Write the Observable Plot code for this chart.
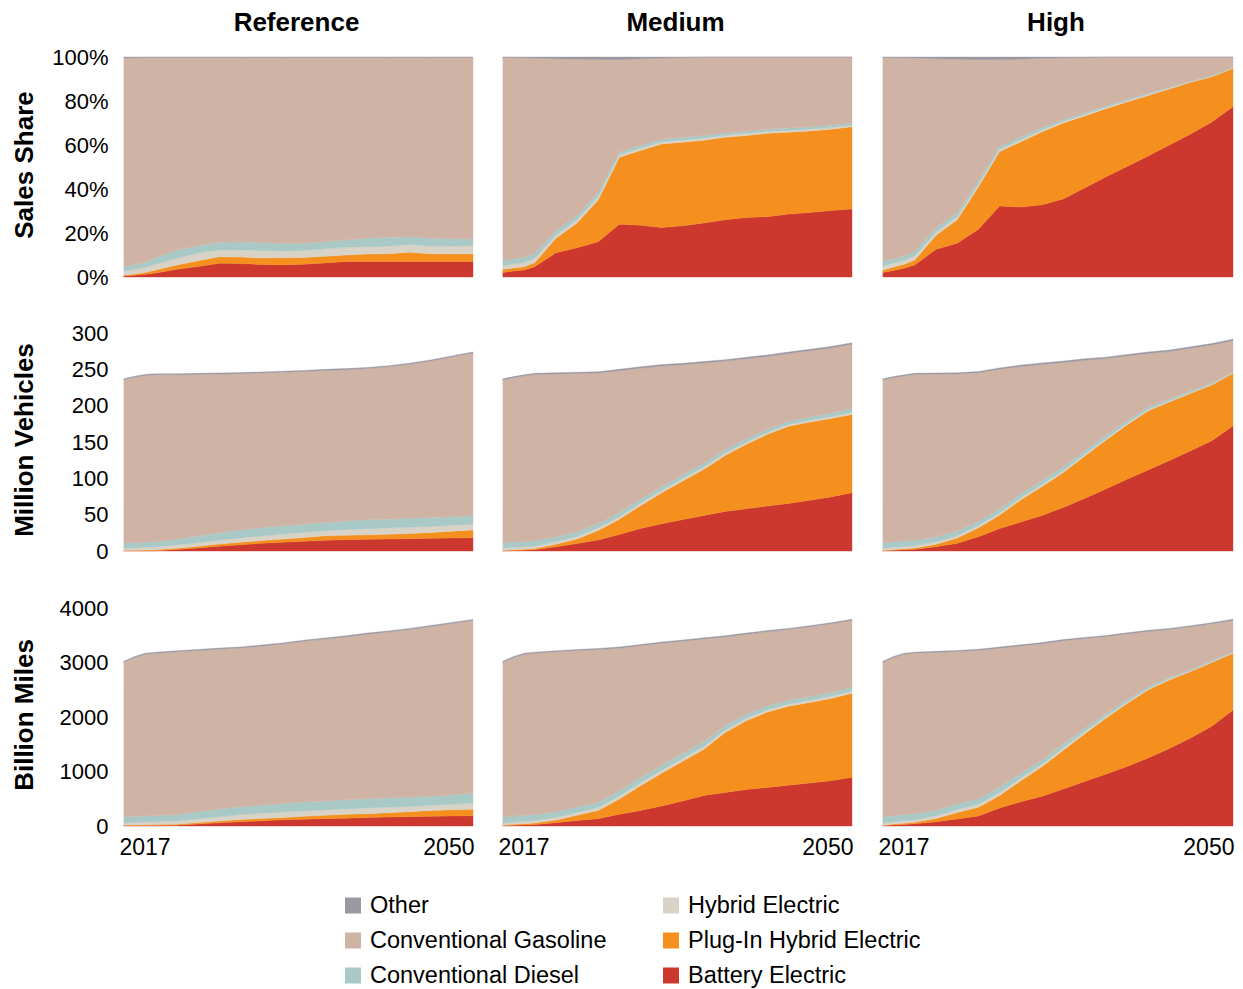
<!DOCTYPE html>
<html>
<head>
<meta charset="utf-8">
<script src="https://cdn.jsdelivr.net/npm/d3@7"></script>
<script src="https://cdn.jsdelivr.net/npm/@observablehq/plot@0.6"></script>
<style>
  html, body { margin: 0; padding: 0; background: #fff; }
  #root { position: relative; width: 1243px; height: 989px; background: #fff; overflow: hidden;
          font-family: "Liberation Sans", Arial, sans-serif; color: #000; }
  .abs { position: absolute; }
  .coltitle { font-weight: bold; font-size: 26px; transform: translate(-50%, -50%); white-space: nowrap; }
  .rowtitle { font-weight: bold; font-size: 26px; transform: translate(-50%, -50%) rotate(-90deg); white-space: nowrap; }
  .leg { font-size: 23.5px; display: flex; align-items: center; transform: translateY(-50%); white-space: nowrap; }
  .sw { display: inline-block; width: 16px; height: 16px; margin-right: 9px; }
  svg.plot { background: transparent; overflow: visible; max-width: none; }
</style>
</head>
<body>
<div id="root"></div>
<script>
// ---------------- DATA ----------------
const years = [2017,2018,2019,2020,2022,2024,2026,2028,2030,2032,2034,2036,2038,2040,2042,2044,2046,2048,2050];
const seriesNames = ["Battery Electric","Plug-In Hybrid Electric","Hybrid Electric","Conventional Diesel","Conventional Gasoline","Other"];
const seriesColors = ["#cc382e","#f5901f","#d9d2c6","#a9c9c6","#cfb4a6","#9c98a2"];
const scenarios = ["Reference","Medium","High"];
const metrics = ["Sales Share","Million Vehicles","Billion Miles"];
const legendCol1 = ["Other","Conventional Gasoline","Conventional Diesel"];
const legendCol2 = ["Hybrid Electric","Plug-In Hybrid Electric","Battery Electric"];

const pctTicks = [0,20,40,60,80,100];
const vehTicks = [0,50,100,150,200,250,300];
const milesTicks = [0,1000,2000,3000,4000];
const yearTicks = [2017,2050];

// each panel: [Battery Electric, Plug-In Hybrid, Hybrid Electric, Diesel, Gasoline, Other]
// Sales share (%)
const salesRef = [
  [0.5,0.8,1.2,1.8,3.5,4.8,6.2,6.1,5.7,5.5,5.8,6.4,7.0,7.0,7.0,7.0,7.0,7.0,7.0],
  [0.3,0.6,0.9,1.4,2.0,2.6,3.0,3.0,2.9,3.3,3.1,3.0,3.0,3.4,3.6,4.2,3.6,3.5,3.5],
  [1.9,2.1,2.2,2.6,3.0,3.5,3.1,3.2,3.4,3.0,3.1,3.4,3.5,3.4,3.4,3.6,3.4,3.5,3.7],
  [2.0,2.2,2.3,3.0,3.8,3.3,3.5,3.7,3.6,3.5,3.3,3.2,3.3,3.8,4.0,3.5,3.6,3.4,3.1],
  [94.9,94.0,93.2,91.0,87.5,85.6,84.0,83.8,84.2,84.5,84.5,83.8,83.0,82.2,81.8,81.5,82.2,82.4,82.5],
  [0.4,0.3,0.2,0.2,0.2,0.2,0.2,0.2,0.2,0.2,0.2,0.2,0.2,0.2,0.2,0.2,0.2,0.2,0.2]
];
const salesMed = [
  [2.1,2.7,3.2,4.7,11.0,13.3,16.0,24.0,23.5,22.5,23.3,24.5,26.0,27.0,27.4,28.6,29.3,30.2,30.9],
  [1.4,1.4,1.5,1.8,6.6,11.2,19.0,30.4,34.0,38.0,38.0,37.7,37.5,37.3,37.9,37.2,37.1,37.0,37.4],
  [1.7,1.9,1.9,2.0,1.4,1.5,1.6,1.0,1.0,1.0,0.9,0.9,0.9,0.9,0.8,0.8,0.8,0.8,0.7],
  [2.1,2.3,2.3,2.3,2.0,2.0,1.8,1.4,1.3,1.2,1.2,1.2,1.1,1.1,1.1,1.1,1.0,1.0,1.0],
  [92.5,91.5,90.8,88.8,78.2,71.0,60.5,42.0,39.4,36.8,36.4,35.6,34.4,33.6,32.7,32.2,31.7,30.9,29.9],
  [0.2,0.2,0.3,0.4,0.8,1.0,1.1,1.2,0.8,0.5,0.2,0.1,0.1,0.1,0.1,0.1,0.1,0.1,0.1]
];
const salesHigh = [
  [2.1,3.0,4.0,5.5,12.6,15.3,21.7,32.3,31.8,32.8,35.5,40.5,45.5,50.2,55.0,60.0,65.0,70.5,77.4],
  [1.1,1.5,1.8,2.2,6.4,10.7,19.3,24.7,29.7,33.2,34.5,32.7,31.0,29.4,27.5,25.5,23.5,20.5,17.4],
  [1.8,1.8,1.8,1.8,1.5,1.4,1.2,1.0,0.9,0.8,0.7,0.7,0.6,0.5,0.5,0.4,0.3,0.3,0.2],
  [2.0,2.0,2.0,2.0,2.0,1.8,1.6,1.4,1.2,1.1,0.9,0.8,0.7,0.6,0.5,0.4,0.3,0.3,0.2],
  [92.8,91.5,90.1,88.1,76.7,69.8,55.0,39.3,35.4,31.5,28.1,25.1,22.1,19.2,16.4,13.6,10.8,8.3,4.7],
  [0.2,0.2,0.3,0.4,0.8,1.0,1.2,1.3,1.0,0.6,0.3,0.2,0.1,0.1,0.1,0.1,0.1,0.1,0.1]
];
// Stock (million vehicles)
const vehRef = [
  [0.4,0.4,0.4,0.5,2.0,4.2,6.5,8.6,10.5,12.1,13.5,14.9,15.6,16.1,16.4,17.0,17.5,17.9,18.3],
  [0.4,0.5,0.9,1.2,1.8,2.4,3.0,3.5,3.8,4.3,5.0,6.0,6.0,6.1,6.5,7.1,8.0,9.4,10.7],
  [2.8,3.1,3.7,4.1,4.5,4.6,5.3,5.9,6.3,6.7,7.0,7.0,7.8,8.4,8.6,8.5,8.3,8.0,7.7],
  [7.6,7.3,7.1,6.8,8.0,9.4,10.3,11.0,11.4,11.5,11.5,11.4,11.9,12.4,12.3,12.4,12.4,12.0,11.9],
  [224.3,227.7,229.4,229.9,226.2,222.4,218.4,215.0,213.0,211.4,210.0,209.2,208.2,208.0,209.7,212.0,215.3,219.7,223.9],
  [1.5,1.5,1.5,1.5,1.5,1.5,1.5,1.5,1.5,1.5,1.5,1.5,1.5,1.5,1.5,1.5,1.5,1.5,1.5]
];
const vehMed = [
  [0.4,0.8,1.1,1.6,5.8,10.2,15.2,22.6,31.0,37.4,43.2,49.0,54.4,58.1,61.8,65.5,69.7,74.4,80.3],
  [0.4,1.0,1.4,1.9,3.6,6.3,13.1,21.2,31.3,42.6,53.3,63.5,77.1,88.9,98.7,106.3,107.8,107.8,107.7],
  [2.8,3.0,3.2,3.3,3.4,3.5,3.5,3.4,3.3,3.2,3.1,3.0,2.9,2.7,2.5,2.4,2.5,2.7,3.0],
  [7.6,7.6,7.5,7.3,6.8,6.5,6.1,5.8,5.7,5.6,5.5,5.4,5.1,4.8,4.5,4.2,4.3,4.7,5.0],
  [224.3,226.1,227.8,228.9,224.1,217.8,207.0,195.1,180.2,165.7,151.2,137.8,121.8,110.0,100.3,93.4,91.2,89.9,88.5],
  [1.5,1.5,1.5,1.5,1.6,1.7,1.8,1.9,2.0,2.0,2.0,2.0,2.0,2.0,2.0,2.0,2.0,2.0,2.0]
];
const vehHigh = [
  [0.4,1.0,1.7,2.4,5.9,10.6,19.5,31.0,39.8,48.9,60.0,72.3,85.2,98.6,111.5,124.4,138.0,151.8,172.0],
  [0.4,1.0,1.5,1.8,3.5,7.4,12.5,18.5,30.7,39.8,48.0,58.2,67.3,74.9,81.5,80.6,79.0,76.7,72.5],
  [2.8,3.0,3.1,3.2,3.2,3.1,3.0,2.9,2.8,2.7,2.6,2.4,2.1,1.9,1.7,1.4,1.2,1.0,0.8],
  [7.6,7.6,7.5,7.3,6.9,6.4,5.8,5.7,5.7,5.6,5.4,4.8,4.3,3.9,3.3,2.8,2.3,1.8,1.5],
  [224.3,225.9,227.2,228.3,223.9,216.0,204.4,192.0,174.8,159.7,143.3,124.8,105.9,89.1,73.9,65.3,58.5,52.2,42.7],
  [1.5,1.5,1.5,1.5,1.6,1.7,1.8,1.9,2.0,2.0,2.0,2.0,2.0,2.0,2.0,2.0,2.0,2.0,2.0]
];
// Travel (billion miles)
const milesRef = [
  [8,9,10,11,14,35,58,77,96,113,125,134,142,154,165,171,179,185,190],
  [6,9,12,15,19,27,35,43,43,45,52,63,73,73,78,92,105,113,116],
  [40,44,50,54,61,69,77,90,94,98,98,97,97,102,103,95,95,100,110],
  [115,114,112,112,111,134,141,142,148,155,165,167,168,169,169,168,167,169,183],
  [2836,2914,2966,2978,2990,2955,2934,2913,2919,2929,2950,2969,2990,3022,3045,3079,3114,3148,3171],
  [20,20,20,20,20,20,20,20,20,20,20,20,20,20,20,20,20,20,20]
];
const milesMed = [
  [8,14,20,26,60,100,135,215,286,368,460,560,614,670,708,750,788,830,893],
  [6,16,22,29,48,95,150,279,452,600,730,850,1100,1260,1382,1448,1479,1510,1541],
  [40,42,44,46,50,52,54,55,55,54,53,51,48,45,43,41,40,40,40],
  [115,113,110,107,103,100,98,97,95,94,92,89,82,75,71,69,70,70,70],
  [2836,2905,2954,2962,2934,2871,2801,2617,2422,2239,2057,1882,1626,1470,1361,1297,1278,1260,1228],
  [20,20,20,20,20,20,20,20,20,20,20,20,20,20,20,20,20,20,20]
];
const milesHigh = [
  [8,18,28,40,78,130,185,330,445,545,680,815,950,1090,1250,1420,1615,1830,2128],
  [6,17,24,30,60,120,160,230,385,545,710,875,1025,1160,1250,1260,1220,1170,1041],
  [40,42,44,46,50,52,54,55,50,45,43,38,32,25,20,16,14,13,13],
  [115,113,110,107,103,101,99,97,90,81,77,67,58,45,35,29,24,22,22],
  [2836,2900,2944,2947,2894,2797,2727,2551,2335,2129,1890,1645,1410,1205,1015,880,782,675,568],
  [20,20,20,20,20,20,20,20,20,20,20,20,20,20,20,20,20,20,20]
];

// ---------------- LAYOUT ----------------
const panels = [[salesRef, salesMed, salesHigh], [vehRef, vehMed, vehHigh], [milesRef, milesMed, milesHigh]];
const rowTicks = [pctTicks, vehTicks, milesTicks];
const rowFormat = [d => d + "%", d => String(d), d => String(d)];
const colX = [124, 503, 883];
const colW = [349, 349, 350];
const rowY = [57, 333, 608];
const rowH = [220, 218, 218];

const root = document.getElementById("root");
const FONT = '"Liberation Sans", Arial, sans-serif';

function toRows(panel) {
  const rows = [];
  panel.forEach((vals, si) => vals.forEach((v, i) => rows.push({year: years[i], series: seriesNames[si], value: v})));
  return rows;
}

const mL = 130, mR = 10, mT = 10, mB = 50;
for (let r = 0; r < 3; r++) {
  for (let c = 0; c < 3; c++) {
    const ticks = rowTicks[r];
    const marks = [
      Plot.areaY(toRows(panels[r][c]), {
        x: "year", y: "value", fill: "series", stroke: "series", strokeWidth: 0.4,
        order: seriesNames
      })
    ];
    if (c === 0) {
      marks.push(Plot.axisY({ticks, tickSize: 0, tickPadding: 16, tickFormat: rowFormat[r], label: null, fontSize: 22, fill: "#000"}));
    }
    if (r === 2) {
      marks.push(Plot.axisX({ticks: [yearTicks[0]], tickSize: 0, tickPadding: 12, textAnchor: "start", dx: -5, tickFormat: d => String(d), label: null, fontSize: 23, fill: "#000"}));
      marks.push(Plot.axisX({ticks: [yearTicks[1]], tickSize: 0, tickPadding: 12, textAnchor: "end", dx: 1, tickFormat: d => String(d), label: null, fontSize: 23, fill: "#000"}));
    }
    const svg = Plot.plot({
      width: mL + colW[c] + mR,
      height: mT + rowH[r] + mB,
      marginLeft: mL, marginRight: mR, marginTop: mT, marginBottom: mB,
      style: {fontFamily: FONT, background: "transparent", overflow: "visible"},
      x: {domain: [2017, 2050], axis: null, label: null},
      y: {domain: [0, ticks[ticks.length - 1]], axis: null, label: null},
      color: {domain: seriesNames, range: seriesColors},
      marks
    });
    svg.classList.add("abs");
    svg.style.left = (colX[c] - mL) + "px";
    svg.style.top = (rowY[r] - mT) + "px";
    root.appendChild(svg);
  }
}

// column titles
scenarios.forEach((s, c) => {
  const d = document.createElement("div");
  d.className = "abs coltitle";
  d.textContent = s;
  d.style.left = (colX[c] + colW[c] / 2 - 2) + "px";
  d.style.top = "22px";
  root.appendChild(d);
});
// row titles
metrics.forEach((m, r) => {
  const d = document.createElement("div");
  d.className = "abs rowtitle";
  d.textContent = m;
  d.style.left = "24px";
  d.style.top = (rowY[r] + rowH[r] / 2 - 2) + "px";
  root.appendChild(d);
});
// legend
const colorOf = name => seriesColors[seriesNames.indexOf(name)];
[[legendCol1, 345], [legendCol2, 663]].forEach(([items, x]) => {
  items.forEach((name, i) => {
    const d = document.createElement("div");
    d.className = "abs leg";
    d.style.left = x + "px";
    d.style.top = (905 + i * 35) + "px";
    const sw = document.createElement("span");
    sw.className = "sw";
    sw.style.background = colorOf(name);
    const t = document.createElement("span");
    t.textContent = name;
    d.appendChild(sw); d.appendChild(t);
    root.appendChild(d);
  });
});
</script>
</body>
</html>
